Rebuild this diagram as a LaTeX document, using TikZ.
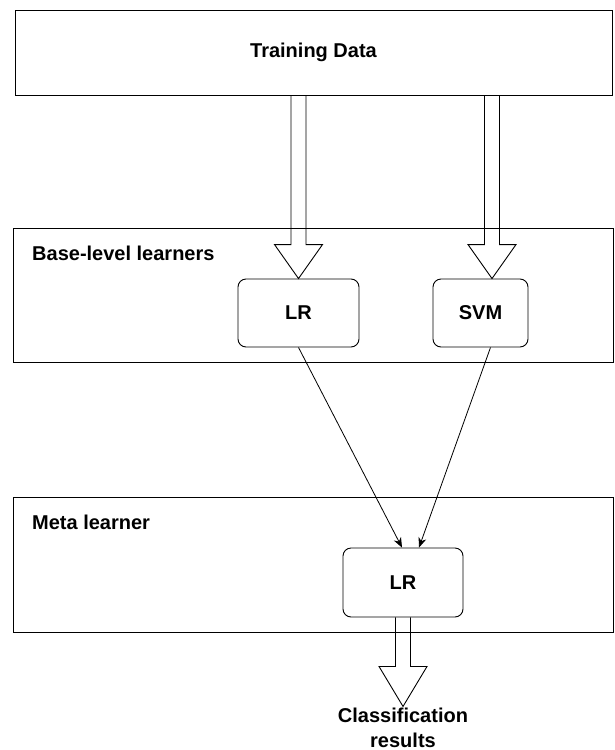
\documentclass[tikz,border=0pt]{standalone}
\usepackage{fontspec}
\setmainfont{Liberation Sans}
\usepackage{tikz}
\usetikzlibrary{positioning,arrows.meta,calc}

% hollow block arrow: start, tip, head length
\newcommand{\fatarrow}[3]{%
  \draw[fat] ($(#1)+(-7.5,0)$) -- ($(#2)+(-7.5,#3)$) -- ($(#2)+(-24,#3)$) -- (#2)
    -- ($(#2)+(24,#3)$) -- ($(#2)+(7.5,#3)$) -- ($(#1)+(7.5,0)$);}

\begin{document}
\begin{tikzpicture}[x=1pt, y=1pt,
  txt/.style={font=\fontsize{20}{25}\selectfont\bfseries},
  frame/.style={draw, line width=1pt, minimum width=600pt, inner sep=0pt, txt},
  learner/.style={draw, rounded corners=8pt, line width=0.9pt, minimum height=68pt, txt},
  lab/.style={txt, anchor=west, inner sep=0pt},
  fat/.style={line width=0.9pt, line join=miter},
  arr/.style={-{Stealth[length=10pt, width=8pt]}, line width=0.8pt}]
  \useasboundingbox (0,0) rectangle (615,-750);
  \node[frame, minimum width=597pt, minimum height=85pt] (train) at (313.5,-52.5) {Training Data};
  \node[frame, minimum height=134pt] (base) at (313,-295) {};
  \node[frame, minimum height=135pt] (meta) at (313,-564.5) {};
  \node[lab] (baselab) at (32,-253) {Base-level learners};
  \node[lab] (metalab) at (32,-522) {Meta learner};
  \node[learner, minimum width=121pt] (lr) at (298.5,-313) {LR};
  \node[learner, minimum width=95pt] (svm) at (480.5,-313) {SVM};
  \node[learner, minimum width=120pt, minimum height=69pt] (mlr) at (403,-582.5) {LR};
  \coordinate (svmin) at ([xshift=11.5pt]svm.north);
  \coordinate (outtip) at ([yshift=-89pt]mlr.south);
  \node[txt, anchor=north, align=center, inner sep=0pt] (res) at ([yshift=-1pt]outtip) {Classification\\results};
  \fatarrow{lr.north |- train.south}{lr.north}{34}
  \fatarrow{svmin |- train.south}{svmin}{34}
  \fatarrow{mlr.south}{outtip}{40}
  \draw[arr] (lr.south) -- ([xshift=-1pt]mlr.north);
  \draw[arr] ([xshift=10pt]svm.south) -- ([xshift=16pt]mlr.north);
\end{tikzpicture}
\end{document}
